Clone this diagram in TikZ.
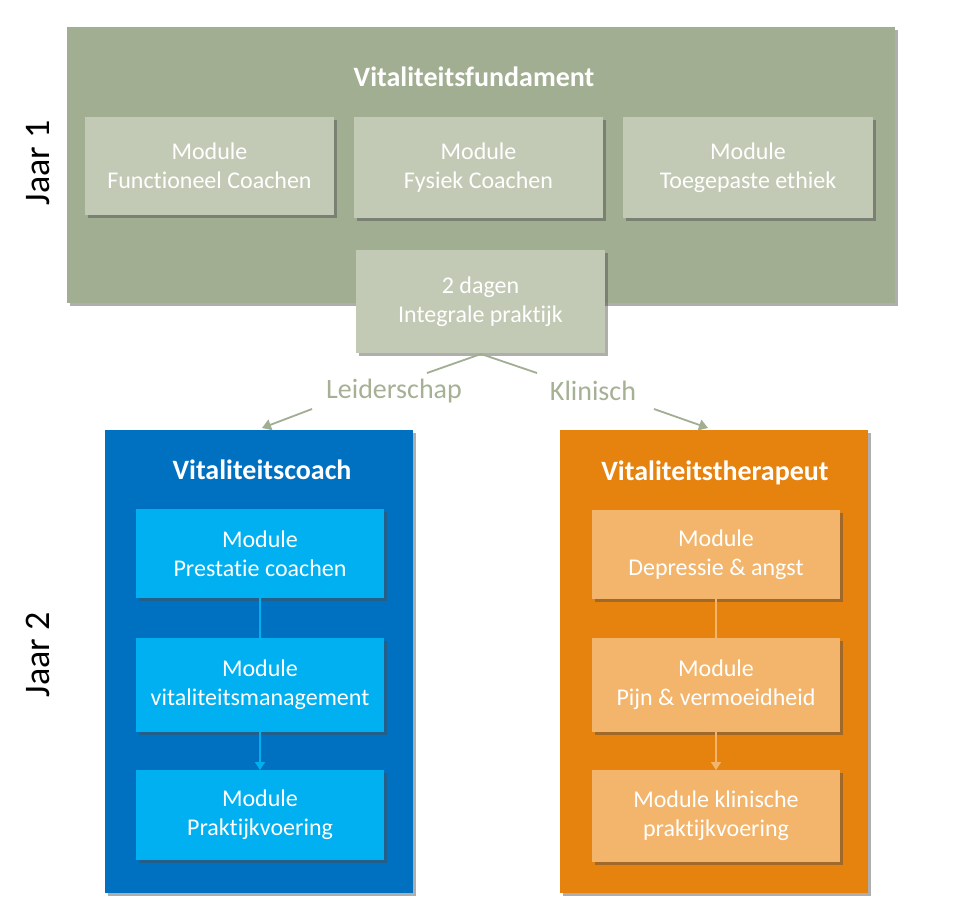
\documentclass[tikz,border=0pt]{standalone}
\usepackage{fontspec}
\setmainfont[Ligatures={NoCommon}]{Carlito}
\usetikzlibrary{shadows,arrows.meta}
\definecolor{gdark}{HTML}{A2AE92}
\definecolor{glight}{HTML}{C2CAB5}
\definecolor{bdark}{HTML}{0070C0}
\definecolor{blight}{HTML}{00B0F0}
\definecolor{odark}{HTML}{E6820E}
\definecolor{olight}{HTML}{F2B56B}
\definecolor{gtext}{HTML}{A5B094}
\tikzset{
  box/.style={inner sep=0pt, outer sep=0pt, draw=none, drop shadow={shadow xshift=3pt, shadow yshift=-3pt, opacity=0.45, fill=black!70}},
  modtext/.style={text=white, font=\fontsize{24}{29}\selectfont, align=center},
  title/.style={text=white, font=\fontsize{28}{32}\selectfont\bfseries},
  jaar/.style={font=\fontsize{36}{40}\selectfont, rotate=90},
  glink/.style={draw=gdark, line width=1.8pt},
  garrow/.style={draw=gdark, line width=1.8pt, -{Triangle[length=9pt,width=11pt]}},
  lbl/.style={text=gtext, font=\fontsize{28}{32}\selectfont},
}
\begin{document}
\begin{tikzpicture}[x=1pt,y=-1pt]
\useasboundingbox[fill=white] (0,0) rectangle (966,918);
% top
\node[box, fill=gdark, minimum width=828pt, minimum height=276pt] (fund) at (481,165) {};
\node[title] (fundt) at (474,77) {Vitaliteitsfundament};
\node[box, fill=glight, minimum width=249pt, minimum height=98pt, modtext] (m1) at (209.5,165.5) {Module\\Functioneel Coachen};
\node[box, fill=glight, minimum width=249pt, minimum height=101pt, modtext] (m2) at (478.5,167.5) {Module\\Fysiek Coachen};
\node[box, fill=glight, minimum width=250pt, minimum height=101pt, modtext] (m3) at (748,167.5) {Module\\Toegepaste ethiek};
\node[box, fill=glight, minimum width=249pt, minimum height=103pt, modtext] (ip) at (480.5,301.5) {2 dagen\\Integrale praktijk};
\node[jaar] (j1) at (38,163) {Jaar 1};
\node[jaar] (j2) at (38,655) {Jaar 2};
% labels and connectors
\node[lbl] (lei) at (394,391) {Leiderschap};
\node[lbl] (kli) at (593,391) {Klinisch};
\coordinate (split) at (481,354);
\coordinate (le) at (427,373);
\coordinate (ke) at (537,373);
\draw[glink] (split) -- (le);
\draw[glink] (split) -- (ke);
% bottom boxes
\node[box, fill=bdark, minimum width=308pt, minimum height=463pt] (coach) at (259,661.5) {};
\node[title] (coacht) at (262,470) {Vitaliteitscoach};
\node[box, fill=odark, minimum width=308pt, minimum height=463pt] (ther) at (714,661.5) {};
\node[title] (thert) at (715,473) {Vitaliteitstherapeut};
\coordinate (ls) at (312,409);
\coordinate (rs) at (654,409);
\coordinate (lt) at (262,428);
\coordinate (rt) at (708,428);
\draw[garrow] (ls) -- (lt);
\draw[garrow] (rs) -- (rt);
% blue modules
\node[box, fill=blight, minimum width=248pt, minimum height=89pt, modtext] (b1) at (260,553.5) {Module\\Prestatie coachen};
\node[box, fill=blight, minimum width=248pt, minimum height=94pt, modtext] (b2) at (260,685) {Module\\vitaliteitsmanagement};
\node[box, fill=blight, minimum width=248pt, minimum height=90pt, modtext] (b3) at (260,815) {Module\\Praktijkvoering};
\draw[draw=blight, line width=1.3pt] (b1.south) -- (b2.north);
\draw[draw=blight, line width=1.3pt, -{Triangle[length=8pt,width=10pt]}] (b2.south) -- (b3.north);
% orange modules
\node[box, fill=olight, minimum width=248pt, minimum height=89pt, modtext] (o1) at (716,554.5) {Module\\Depressie \& angst};
\node[box, fill=olight, minimum width=248pt, minimum height=94pt, modtext] (o2) at (716,685) {Module\\Pijn \& vermoeidheid};
\node[box, fill=olight, minimum width=248pt, minimum height=92pt, modtext] (o3) at (716,816) {Module klinische\\praktijkvoering};
\draw[draw=olight, line width=1.3pt] (o1.south) -- (o2.north);
\draw[draw=olight, line width=1.3pt, -{Triangle[length=8pt,width=10pt]}] (o2.south) -- (o3.north);
\end{tikzpicture}
\end{document}
